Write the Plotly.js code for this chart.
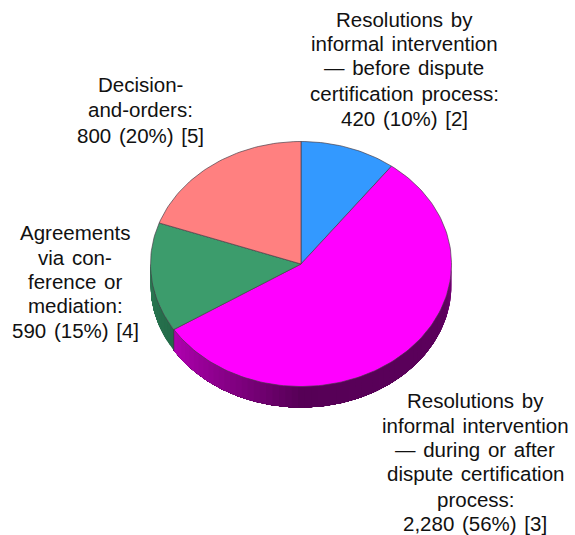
<!DOCTYPE html>
<html>
<head>
<meta charset="utf-8">
<script src="https://cdn.plot.ly/plotly-3.0.1.min.js"></script>
<style>html,body{margin:0;padding:0;background:#fff}.annotation-text{word-spacing:2px}</style>
</head>
<body>
<div id="chart" style="width:575px;height:535px"></div>
<script>
var categories = [
  "Resolutions by informal intervention — before dispute certification process",
  "Resolutions by informal intervention — during or after dispute certification process",
  "Agreements via conference or mediation",
  "Decision-and-orders"
];
var values = [420, 2280, 590, 800];
var topColors = ["#3399ff", "#ff00ff", "#3c9c6c", "#ff8080"];
var sideColors = [
  [[90, "#003a70"], [270, "#003a70"]],
  [[90, "#7a007a"], [108, "#5c005c"], [180, "#560056"], [200, "#780078"], [240, "#b400b4"]],
  [[238, "#226a48"], [270, "#2c7a55"]],
  [[90, "#a05050"], [270, "#a05050"]]
];
var labelLines = [
  ["Resolutions by", "informal intervention", "— before dispute", "certification process:", "420 (10%) [2]"],
  ["Resolutions by", "informal intervention", "— during or after", "dispute certification", "process:", "2,280 (56%) [3]"],
  ["Agreements", "via con-", "ference or", "mediation:", "590 (15%) [4]"],
  ["Decision-", "and-orders:", "800 (20%) [5]"]
];
var labelX = [404, 475, 75, 140];
var labelY = [[19, 43, 67, 93, 118], [400, 425, 449, 473, 499, 523], [232, 257, 281, 305, 330], [84, 109, 135]];

var W = 575, H = 535, CX = 301, CY = 264, RX = 150.5, RY = 122.5, DEPTH = 21;
var total = values.reduce(function (a, b) { return a + b; }, 0);
var rad = function (d) { return d * Math.PI / 180; };
var pX = function (d) { return CX + RX * Math.sin(rad(d)); };
var pY = function (d) { return CY - RY * Math.cos(rad(d)); };

function hex(c) { return [1, 3, 5].map(function (i) { return parseInt(c.substr(i, 2), 16); }); }
function shade(stops, a) {
  if (a <= stops[0][0]) return stops[0][1];
  for (var i = 1; i < stops.length; i++) {
    if (a <= stops[i][0]) {
      var t = (a - stops[i - 1][0]) / (stops[i][0] - stops[i - 1][0]);
      var p = hex(stops[i - 1][1]), q = hex(stops[i][1]);
      return "rgb(" + p.map(function (v, k) { return Math.round(v + (q[k] - v) * t); }).join(",") + ")";
    }
  }
  return stops[stops.length - 1][1];
}

function arc(from, to) {
  var out = [], m = Math.max(2, Math.ceil((to - from) / 0.5));
  for (var j = 0; j <= m; j++) out.push(from + (to - from) * j / m);
  return out;
}

var traces = [], tops = [], start = 0;
values.forEach(function (v, i) {
  var sweep = v / total * 360, end = start + sweep;
  var a0 = Math.max(start, 90), a1 = Math.min(end, 270);
  if (a1 > a0) {
    var n = Math.ceil((a1 - a0) / 2.5);
    for (var s = 0; s < n; s++) {
      // each strip runs on to the end of the wall and the next covers it, so no seams show
      var p = a0 + (a1 - a0) * s / n;
      var col = shade(sideColors[i], p + (a1 - a0) / n / 2);
      var ang = arc(p, a1);
      var xs0 = ang.map(pX), ys0 = ang.map(pY);
      traces.push({
        type: "scatter", mode: "lines", fill: "toself", fillcolor: col,
        line: { width: 0 }, hoverinfo: "skip", showlegend: false,
        x: xs0.concat(xs0.slice().reverse()),
        y: ys0.concat(ys0.slice().reverse().map(function (y) { return y + DEPTH; }))
      });
    }
    if (a0 === start) {
      traces.push({ type: "scatter", mode: "lines", hoverinfo: "skip", showlegend: false,
        line: { color: "rgba(60,40,60,0.7)", width: 0.8 },
        x: [pX(a0), pX(a0)], y: [pY(a0), pY(a0) + DEPTH] });
    }
  }
  var xs = [CX], ys = [CY], k = Math.ceil(sweep / 1.5);
  for (var j = 0; j <= k; j++) {
    var d = start + sweep * j / k;
    xs.push(pX(d)); ys.push(pY(d));
  }
  xs.push(CX); ys.push(CY);
  tops.push({
    type: "scatter", mode: "lines", fill: "toself", fillcolor: topColors[i], name: categories[i],
    line: { color: "rgba(70,60,70,0.75)", width: 0.9 }, hoverinfo: "name", showlegend: false,
    x: xs, y: ys
  });
  start = end;
});
traces = traces.concat(tops);

var annotations = [];
labelLines.forEach(function (lines, i) {
  lines.forEach(function (t, j) {
    annotations.push({ text: t, x: labelX[i], y: labelY[i][j], xref: "x", yref: "y",
      showarrow: false, xanchor: "center", yanchor: "middle",
      font: { family: "Liberation Sans, Arial, sans-serif", size: 20.5, color: "#111111" } });
  });
});

Plotly.newPlot("chart", traces, {
  width: W, height: H, margin: { l: 0, r: 0, t: 0, b: 0 },
  paper_bgcolor: "#ffffff", plot_bgcolor: "#ffffff", showlegend: false,
  xaxis: { range: [0, W], visible: false, fixedrange: true },
  yaxis: { range: [H, 0], visible: false, fixedrange: true },
  annotations: annotations
}, { displayModeBar: false, staticPlot: true });
</script>
</body>
</html>
